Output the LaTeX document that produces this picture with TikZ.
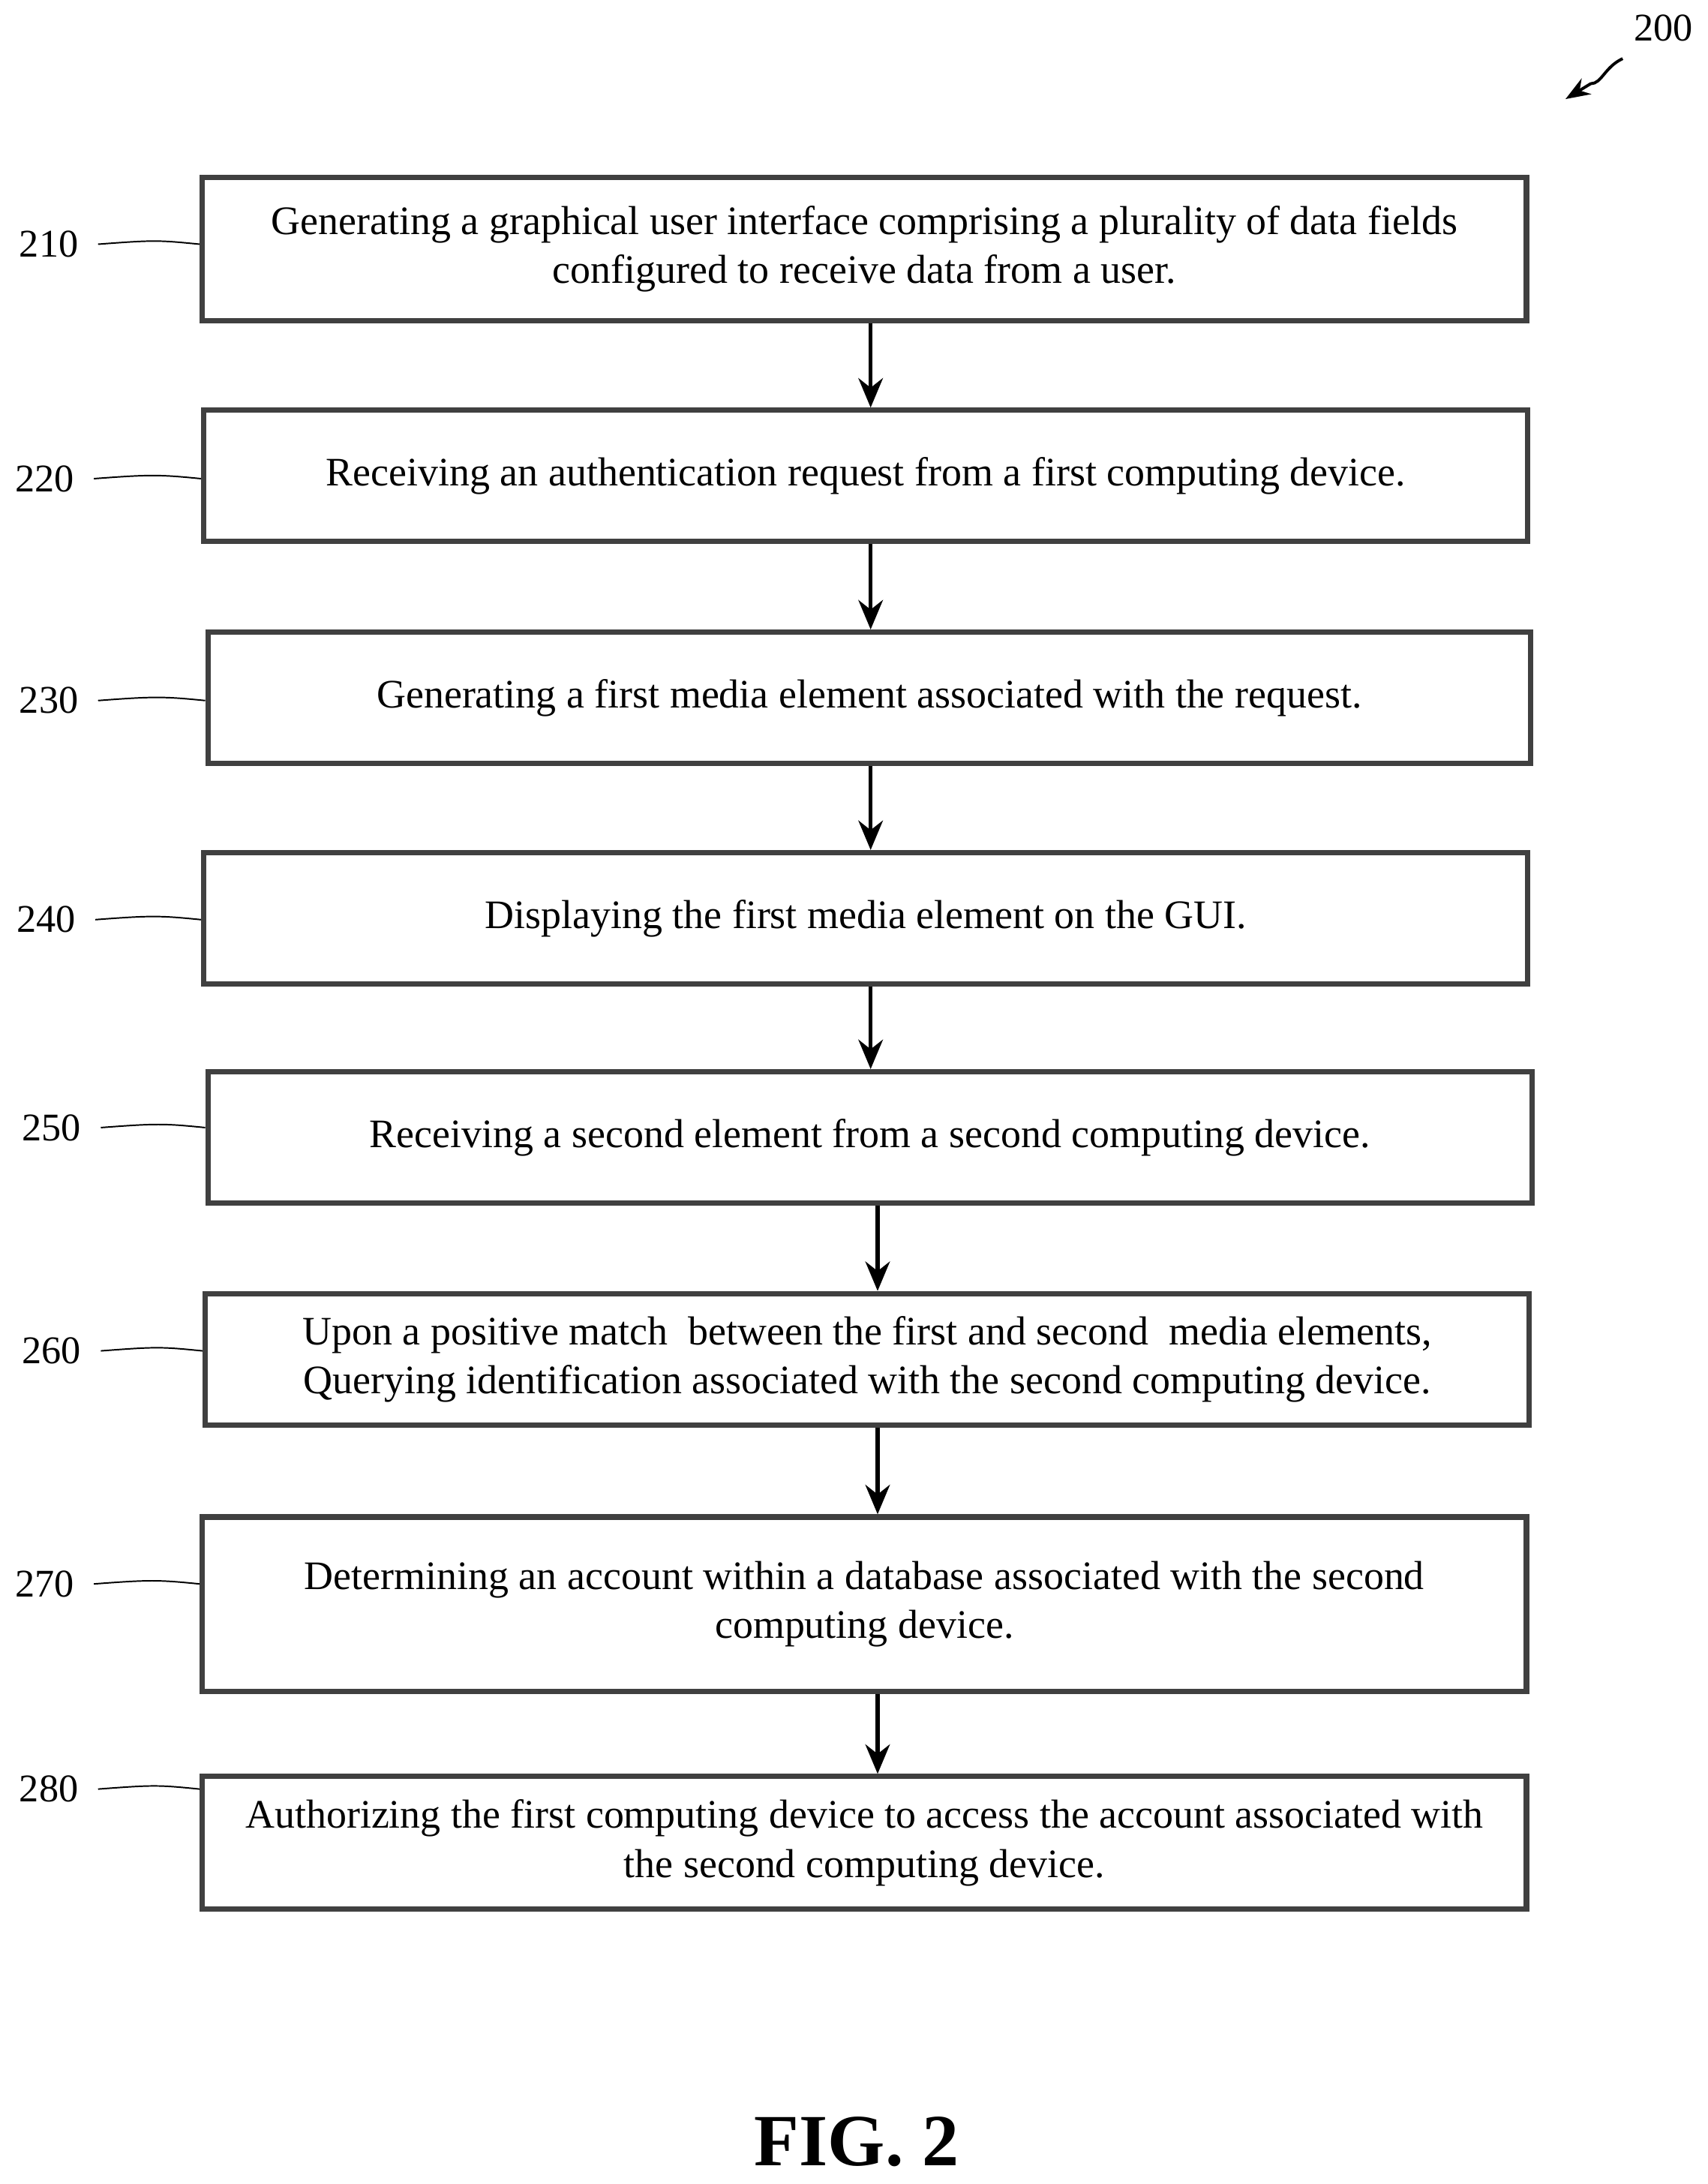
\documentclass[tikz,border=0pt]{standalone}
\usepackage{fontspec}
\setmainfont{Liberation Serif}
\usetikzlibrary{arrows.meta}
\begin{document}
\begin{tikzpicture}[x=0.02cm,y=-0.02cm,
 box/.style={draw=black!75,line width=2.2pt,inner sep=0pt,align=center,font=\fontsize{16.5}{20}\selectfont},
 lab/.style={font=\fontsize{16}{18}\selectfont},
 arr/.style={line width=1.6pt,-{Stealth[length=12pt,width=10pt]}},
 lead/.style={line width=0.6pt}]
\useasboundingbox (0,0) rectangle (1224,1565);
\def\bx#1#2#3#4#5#6{\node[box,minimum width={(#3-#2)*0.02cm},minimum height={(#5-#4)*0.02cm}] (#1) at ({(#2+#3)/2},{(#4+#5)/2}) {#6};}
\bx{b210}{145}{1094}{127}{230}{Generating a graphical user interface comprising a plurality of data fields\\configured to receive data from a user.}
\bx{b220}{146}{1095}{294}{388}{Receiving an authentication request from a first computing device.}
\bx{b230}{149}{1097}{453}{547}{Generating a first media element associated with the request.}
\bx{b240}{146}{1095}{611}{705}{Displaying the first media element on the GUI.}
\bx{b250}{149}{1098}{768}{862}{Receiving a second element from a second computing device.}
\bx{b260}{147}{1096}{927}{1021}{Upon a positive match\ \ between the first and second\ \ media elements,\\Querying identification associated with the second computing device.}
\bx{b270}{145}{1094}{1087}{1212}{Determining an account within a database associated with the second\\computing device.}
\bx{b280}{145}{1094}{1273}{1368}{Authorizing the first computing device to access the account associated with\\the second computing device.}
\foreach \a/\b/\x in {b210/b220/624,b220/b230/624,b230/b240/624,b240/b250/624,b250/b260/629,b260/b270/629,b270/b280/629}{
 \draw[arr] (\x,0 |- \a.south) -- (\x,0 |- \b.north);}
\foreach \n/\x/\y/\bb in {210/35/175/b210,220/32/343/b220,230/35/502/b230,240/33/659/b240,250/37/808/b250,260/37/968/b260,270/32/1135/b270,280/35/1282/b280}{
 \node[lab] (l\n) at (\x,\y) {\n};
 \draw[lead] (l\n.east) ++(8,0) coordinate (s\n) .. controls +(40,-3) and +(-30,-3) .. (\bb.west |- l\n.east);}
\node[lab] (l200) at (1192,20) {200};
\coordinate (t200) at (1122,71);
\draw[line width=1.2pt,-{Stealth[length=10pt]}] (1163,42) .. controls (1150,48) and (1148,60) .. (1140,60) -- (t200);
\node[font=\bfseries\fontsize{30}{34}\selectfont] (fig) at (614,1535) {FIG. 2};
\end{tikzpicture}
\end{document}
